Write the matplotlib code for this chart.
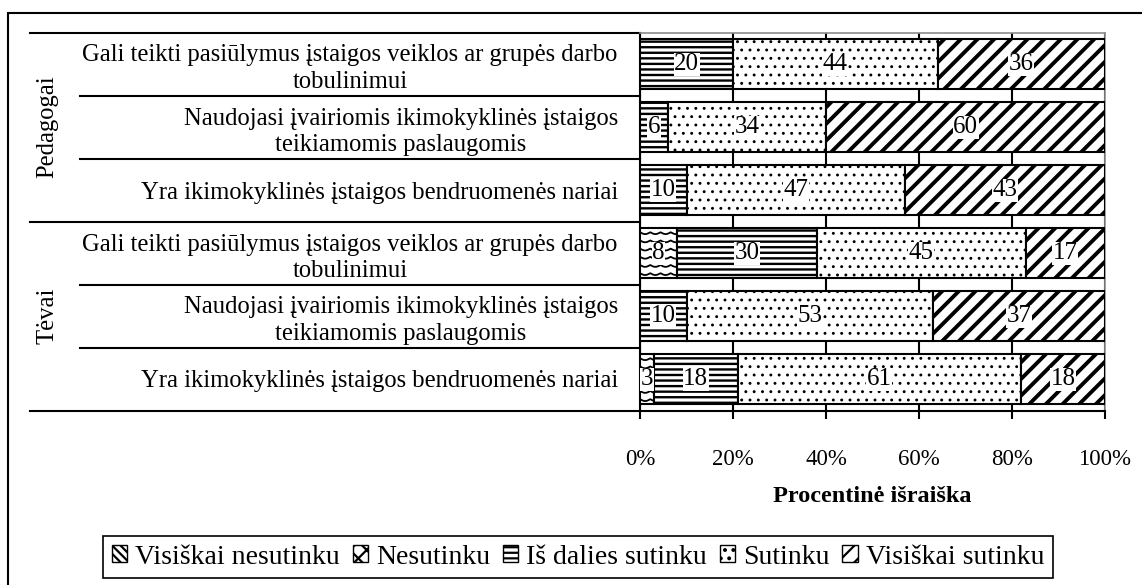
import matplotlib
matplotlib.use("Agg")
import matplotlib.pyplot as plt
import matplotlib.patches as mpatches
import numpy as np

plt.rcParams['font.family'] = ['Liberation Serif', 'DejaVu Serif']

# duomenys (eilutės iš viršaus į apačią)
groups = ['Pedagogai', 'Tėvai']
statements = [
    'Gali teikti pasiūlymus įstaigos veiklos ar grupės darbo\ntobulinimui',
    'Naudojasi įvairiomis ikimokyklinės įstaigos\nteikiamomis paslaugomis',
    'Yra ikimokyklinės įstaigos bendruomenės nariai',
]
row_labels = statements + statements
categories = ['Visiškai nesutinku', 'Nesutinku', 'Iš dalies sutinku', 'Sutinku', 'Visiškai sutinku']
visiskai_nesutinku = [0, 0, 0, 0, 0, 0]
nesutinku = [0, 0, 0, 8, 0, 3]
is_dalies_sutinku = [20, 6, 10, 30, 10, 18]
sutinku = [44, 34, 47, 45, 53, 61]
visiskai_sutinku = [36, 60, 43, 17, 37, 18]
xticks = [0, 20, 40, 60, 80, 100]

series = [visiskai_nesutinku, nesutinku, is_dalies_sutinku, sutinku, visiskai_sutinku]
hatches = ['\\\\\\\\', None, '---', '..', '//']
hatch_lw = [1.5, 1.0, 1.7, 0.9, 2.8]
legend_hatches = ['\\\\\\\\', 'xx', '---', '..', '//']

FS = 17.7
W, H = 1142, 585
fig = plt.figure(figsize=(W / 100, H / 100), dpi=100)
ax = fig.add_axes([640 / W, 1 - 410.5 / H, 465 / W, 378 / H])

y = np.arange(len(row_labels))
left = np.zeros(len(row_labels))
for vals, h, hlw, name in zip(series, hatches, hatch_lw, categories):
    vals = np.array(vals, dtype=float)
    plt.rcParams['hatch.linewidth'] = hlw
    bars = ax.barh(y, vals, left=left, height=0.78, color='white', edgecolor='black',
                   linewidth=1.5, hatch=h, zorder=3, label=name)
    for b in bars:
        if hasattr(b, 'set_hatch_linewidth'):
            b.set_hatch_linewidth(hlw)
    if h is None:
        # banguotas raštas (Nesutinku)
        for b in bars:
            if b.get_width() <= 0:
                continue
            x0, y0 = b.get_x(), b.get_y()
            xs = np.linspace(x0 - 1, x0 + b.get_width() + 1, 200)
            for k in np.arange(y0 + 0.06, y0 + b.get_height(), 0.13):
                ln, = ax.plot(xs, k + 0.03 * np.abs(np.sin(xs / 2.2 * np.pi)), color='black',
                              lw=1.3, zorder=3.5)
                ln.set_clip_path(b)
    for b, v in zip(bars, vals):
        if v > 0:
            ax.text(b.get_x() + b.get_width() / 2, b.get_y() + b.get_height() / 2, f'{v:.0f}',
                    ha='center', va='center', fontsize=18, zorder=5,
                    bbox=dict(facecolor='white', edgecolor='none', pad=0.3))
    left += vals

ax.set_xlim(0, 100)
ax.set_ylim(len(row_labels) - 0.5, -0.5)
ax.set_xticks(xticks, [f'{t}%' for t in xticks], fontsize=16.5)
ax.set_yticks(y, row_labels, fontsize=FS)
for lbl in ax.get_yticklabels():
    lbl.set_multialignment('center')
    lbl.set_linespacing(1.25)
ax.tick_params(axis='y', length=0, pad=16)
ax.tick_params(axis='x', length=6, width=1.5, pad=22)
ax.set_xlabel('Procentinė išraiška', fontsize=17.5, fontweight='bold', labelpad=11)
ax.grid(axis='x', color='black', lw=1.5, zorder=0)
ax.set_axisbelow(True)
for s in ['top', 'right']:
    ax.spines[s].set_color('#8c8c8c')
    ax.spines[s].set_linewidth(1.2)
for s in ['left', 'bottom']:
    ax.spines[s].set_linewidth(1.5)

# grupių skirtukai
tr = ax.get_yaxis_transform()
for b in [-0.5, 2.5, 5.5]:
    ax.plot([-(640 - 30) / 465, 0], [b, b], transform=tr, clip_on=False, color='black', lw=1.5)
for b in [0.5, 1.5, 3.5, 4.5]:
    ax.plot([-(640 - 80) / 465, 0], [b, b], transform=tr, clip_on=False, color='black', lw=1.5)
for i, g in enumerate(groups):
    ax.text(-(640 - 47) / 465, i * 3 + 1, g, transform=tr, rotation=90, ha='center', va='center',
            fontsize=FS)

plt.rcParams['hatch.linewidth'] = 1.6
handles = [mpatches.Patch(facecolor='white', edgecolor='black', hatch=h) for h in legend_hatches]
leg = fig.legend(handles, categories, loc='center', bbox_to_anchor=(578 / W, 1 - 557 / H), ncol=5,
                 fancybox=False, edgecolor='black', framealpha=1, fontsize=20, handlelength=0.55,
                 handleheight=0.55, handletextpad=0.3, columnspacing=0.45, borderpad=0.3,
                 borderaxespad=0)
leg.get_frame().set_linewidth(1.2)

# rėmelis
fig.add_artist(mpatches.Rectangle((8 / W, -0.1), 1.2, 1.1 - 13 / H, transform=fig.transFigure,
                                  fill=False, edgecolor='black', lw=1.5, clip_on=False))

fig.savefig('out.png', dpi=100)
